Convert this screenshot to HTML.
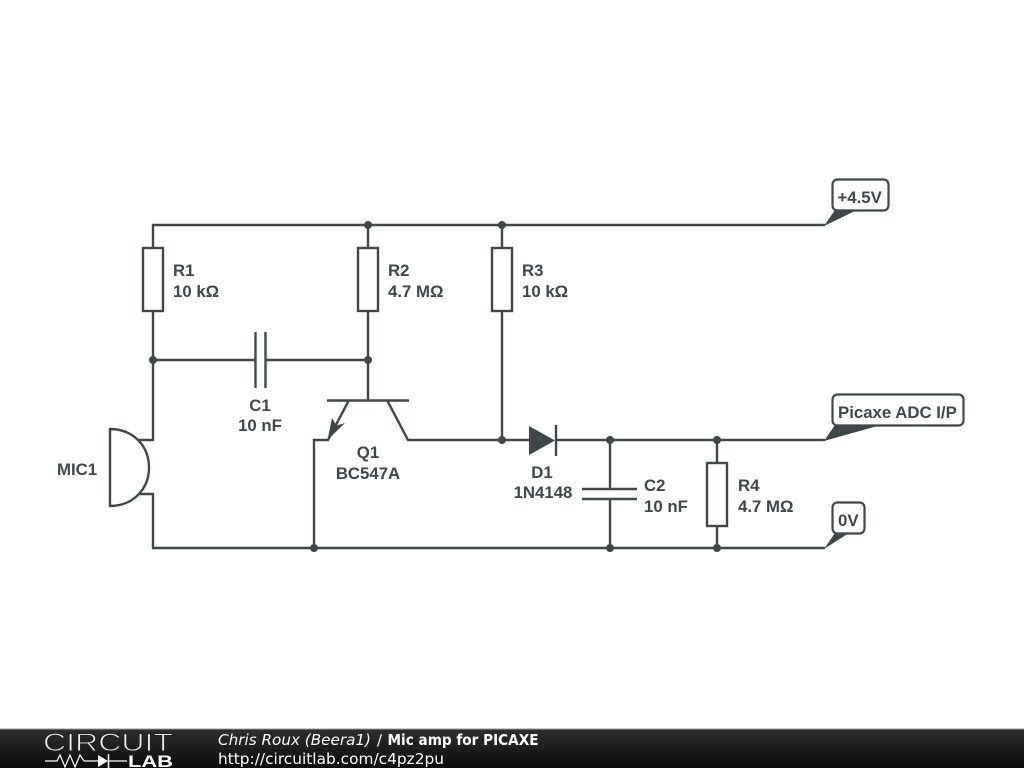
<!DOCTYPE html>
<html>
<head>
<meta charset="utf-8">
<title>Mic amp for PICAXE</title>
<style>
html,body{margin:0;padding:0;background:#fff;width:1024px;height:768px;overflow:hidden}
svg{display:block;position:absolute;left:0;top:0}
.d{filter:blur(0.35px)}
.l{font-family:"Liberation Sans",Arial,sans-serif;font-weight:bold;font-size:16.8px;fill:#3f474b}
.f{font-family:"DejaVu Sans",sans-serif;font-size:15px;fill:#fff}
</style>
</head>
<body>
<svg width="1024" height="768" viewBox="0 0 1024 768" xmlns="http://www.w3.org/2000/svg">
<defs>
<linearGradient id="g" x1="0" y1="0" x2="0" y2="1">
<stop offset="0" stop-color="#2e2e2e"/>
<stop offset="1" stop-color="#0c0c0c"/>
</linearGradient>
</defs>
<g class="d">
<g fill="none" stroke="#3f474b" stroke-width="2.4">
<!-- rails -->
<path d="M153 248V225H825"/>
<path d="M153 311V440H138"/>
<path d="M138 494H153V548H825"/>
<path d="M368 225V248M368 311V400"/>
<path d="M502 225V248M502 311V440"/>
<!-- R -->
<rect x="143" y="248" width="20" height="63" fill="#fff"/>
<rect x="358" y="248" width="20" height="63" fill="#fff"/>
<rect x="492" y="248" width="20" height="63" fill="#fff"/>
<rect x="707" y="463" width="20" height="63" fill="#fff"/>
<!-- C1 -->
<path d="M153 360H255M265 360H368M255.500 332V388M265.500 332V388"/>
<!-- Q1 -->
<path d="M327 400.500H409"/>
<path d="M349 400L328 440H314V548"/>
<path d="M387 400L408 440H529"/>
<!-- D1 -->
<path d="M556 425V456"/>
<path d="M556 440H825"/>
<!-- C2 -->
<path d="M610 440V489M610 499V548M582 489H637M582 499H637"/>
<!-- R4 -->
<path d="M717 440V463M717 526V548"/>
<!-- Mic -->
<path d="M149 467.500C149 445 132 429 110 429V506C132 506 149 490 149 467.500Z" fill="#fff"/>
</g>
<!-- arrowhead and diode -->
<path d="M327.500 440L332 418L336.500 425.500L345 423Z" fill="#3f474b"/>
<path d="M529 426L555 440.500L529 455Z" fill="#3f474b"/>
<!-- flags -->
<g fill="#fff" stroke="#3f474b" stroke-width="2.2">
<rect x="832.500" y="179.500" width="56" height="31" rx="5"/>
<rect x="832.500" y="394.500" width="131" height="31" rx="5"/>
<rect x="832.500" y="502.500" width="32" height="31" rx="5"/>
</g>
<!-- junction dots and flag tails -->
<g fill="#3f474b">
<circle cx="368" cy="225" r="4"/>
<circle cx="502" cy="225" r="4"/>
<circle cx="153" cy="360" r="4"/>
<circle cx="368" cy="360" r="4"/>
<circle cx="502" cy="440" r="4"/>
<circle cx="610" cy="440" r="4"/>
<circle cx="717" cy="440" r="4"/>
<circle cx="314" cy="548" r="4"/>
<circle cx="610" cy="548" r="4"/>
<circle cx="717" cy="548" r="4"/>
<path d="M824 226L835 210H857Z"/>
<path d="M824 441L835 425H881Z"/>
<path d="M824 549L835 533H849Z"/>
</g>
<g>
<text class="l" x="837.500" y="203">+4.5V</text>
<text class="l" x="838" y="418">Picaxe ADC I/P</text>
<text class="l" x="838" y="526">0V</text>
<text class="l" x="173" y="276">R1</text>
<text class="l" x="173" y="297">10 kΩ</text>
<text class="l" x="388" y="276">R2</text>
<text class="l" x="388" y="297">4.7 MΩ</text>
<text class="l" x="522" y="276">R3</text>
<text class="l" x="522" y="297">10 kΩ</text>
<text class="l" x="260" y="411" text-anchor="middle">C1</text>
<text class="l" x="260" y="431" text-anchor="middle">10 nF</text>
<text class="l" x="368" y="458" text-anchor="middle">Q1</text>
<text class="l" x="368" y="479" text-anchor="middle">BC547A</text>
<text class="l" x="542" y="478" text-anchor="middle">D1</text>
<text class="l" x="543" y="498" text-anchor="middle">1N4148</text>
<text class="l" x="644" y="491">C2</text>
<text class="l" x="644" y="512">10 nF</text>
<text class="l" x="738" y="491">R4</text>
<text class="l" x="738" y="512">4.7 MΩ</text>
<text class="l" x="57" y="475">MIC1</text>
</g>
</g>
<!-- footer -->
<rect x="0" y="729" width="1024" height="39" fill="url(#g)"/>
<rect x="0" y="728.500" width="1024" height="1" fill="#9a9a9a"/>
<text x="43" y="751" font-family="'Liberation Sans',sans-serif" font-size="25" fill="#eeeeee" stroke="#1f1f1f" stroke-width="0.9" textLength="130" lengthAdjust="spacingAndGlyphs">CIRCUIT</text>
<path d="M45 761H57L60 755L65 767L70 755L75 767L80 755L84 761H98M109 761H127" fill="none" stroke="#fff" stroke-width="1.200"/>
<path d="M98 755V767L108 761Z" fill="#fff"/>
<path d="M108.500 754V768" stroke="#fff" stroke-width="1.500"/>
<text x="128" y="767" font-family="'Liberation Sans',sans-serif" font-size="17" font-weight="bold" fill="#fff" textLength="45" lengthAdjust="spacingAndGlyphs">LAB</text>
<text class="f" x="218" y="745" font-style="italic" textLength="153" lengthAdjust="spacingAndGlyphs">Chris Roux (Beera1)</text>
<text class="f" x="377" y="745">/</text>
<text class="f" x="387.500" y="745" font-weight="bold" textLength="151" lengthAdjust="spacingAndGlyphs">Mic amp for PICAXE</text>
<text class="f" x="218" y="764" textLength="226" lengthAdjust="spacingAndGlyphs">http://circuitlab.com/c4pz2pu</text>
</svg>
</body>
</html>
